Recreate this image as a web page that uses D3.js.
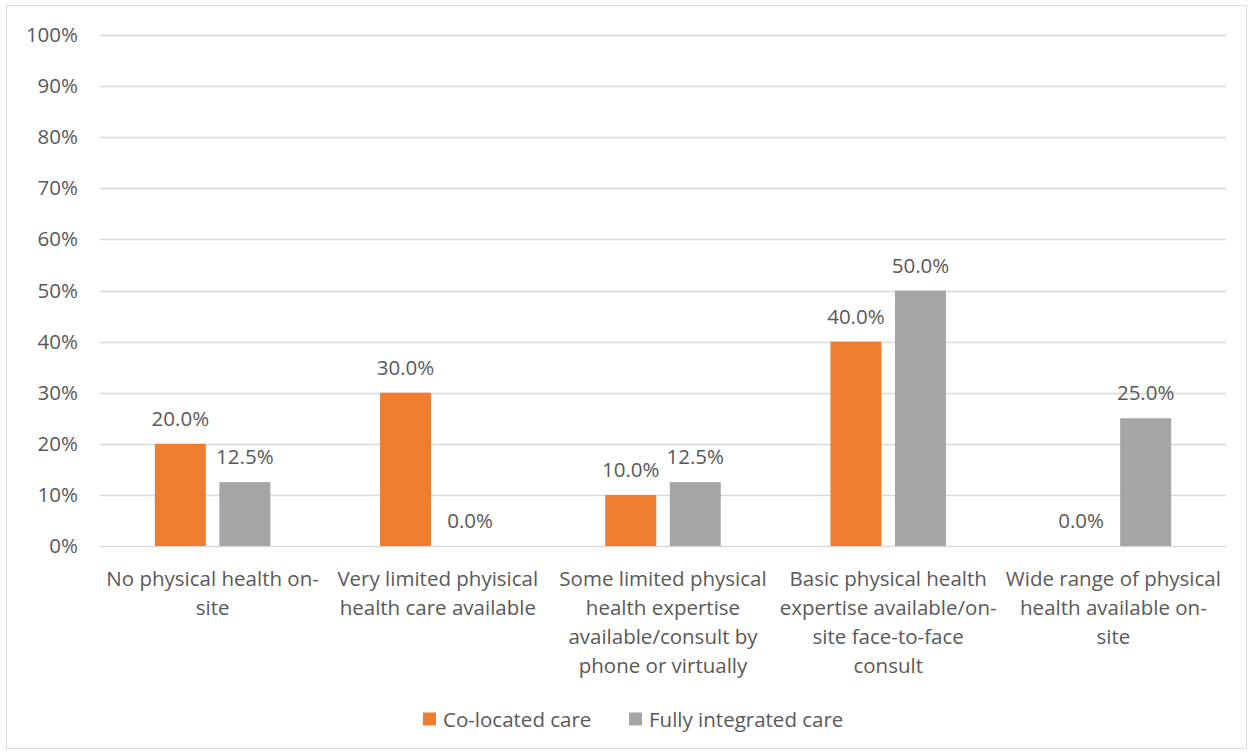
<!DOCTYPE html>
<html>
<head>
<meta charset="utf-8">
<script src="https://cdn.jsdelivr.net/npm/d3@7"></script>
<style>
  body { margin: 0; background: #fff; }
  text { font-family: "Open Sans", sans-serif; fill: #595959; }
</style>
</head>
<body>
<div id="chart-area"></div>
<script>
const categories = [
  "No physical health on-site",
  "Very limited phyisical health care available",
  "Some limited physical health expertise available/consult by phone or virtually",
  "Basic physical health expertise available/on-site face-to-face consult",
  "Wide range of physical health available on-site"
];
// wrapped lines as they appear under the axis
const categoryLines = [
  ["No physical health on-", "site"],
  ["Very limited phyisical", "health care available"],
  ["Some limited physical", "health expertise", "available/consult by", "phone or virtually"],
  ["Basic physical health", "expertise available/on-", "site face-to-face", "consult"],
  ["Wide range of physical", "health available on-", "site"]
];
const seriesNames = ["Co-located care", "Fully integrated care"];
const coLocated = [20.0, 30.0, 10.0, 40.0, 0.0];
const fullyIntegrated = [12.5, 0.0, 12.5, 50.0, 25.0];
const yTicks = [0, 10, 20, 30, 40, 50, 60, 70, 80, 90, 100];
const colors = ["#ED7D31", "#A5A5A5"];

const W = 1253, H = 755;
const margin = { top: 35, right: 27, bottom: 209, left: 100 };
const width = W - margin.left - margin.right;
const height = H - margin.top - margin.bottom;
const fontSize = "20.5px";

const svg = d3.select("#chart-area")
  .append("svg")
    .attr("width", W)
    .attr("height", H);

svg.append("rect")
  .attr("x", 6.5)
  .attr("y", 5.5)
  .attr("width", W - 13)
  .attr("height", H - 12)
  .attr("fill", "#fff")
  .attr("stroke", "#d9d9d9")
  .attr("stroke-width", 1);

const g = svg.append("g")
  .attr("transform", `translate(${margin.left}, ${margin.top})`);

const x = d3.scaleBand()
  .domain(categories)
  .range([0, width])
  .padding(0);

const x1 = d3.scaleBand()
  .domain(seriesNames)
  .range([0, x.bandwidth()])
  .paddingInner(0.21)
  .paddingOuter(0.85);

const y = d3.scaleLinear()
  .domain([0, 100])
  .range([height, 0]);

// gridlines
g.append("g")
  .selectAll("line")
  .data(yTicks)
  .join("line")
    .attr("x1", 0)
    .attr("x2", width)
    .attr("y1", d => Math.round(y(d)) + 0.5)
    .attr("y2", d => Math.round(y(d)) + 0.5)
    .attr("stroke", "#d9d9d9")
    .attr("stroke-width", 1.3);

// y axis labels
const yAxisCall = d3.axisLeft(y)
  .tickValues(yTicks)
  .tickFormat(d => d + "%")
  .tickSize(0)
  .tickPadding(22);

const yAxisGroup = g.append("g").call(yAxisCall);
yAxisGroup.select(".domain").remove();
yAxisGroup.selectAll("text")
  .attr("font-size", fontSize)
  .attr("font-family", "'Open Sans', sans-serif")
  .attr("fill", "#595959");

const rows = categories.map((c, i) => ({
  cat: c,
  vals: [coLocated[i], fullyIntegrated[i]]
}));

const groups = g.selectAll(".cat")
  .data(rows)
  .join("g")
    .attr("class", "cat")
    .attr("transform", d => `translate(${x(d.cat)}, 0)`);

groups.selectAll("rect")
  .data(d => d.vals.map((v, j) => ({ s: seriesNames[j], v, j })))
  .join("rect")
    .attr("x", d => x1(d.s))
    .attr("y", d => y(d.v))
    .attr("width", x1.bandwidth())
    .attr("height", d => height - y(d.v))
    .attr("fill", d => colors[d.j]);

groups.selectAll("text.val")
  .data(d => d.vals.map((v, j) => ({ s: seriesNames[j], v, j })))
  .join("text")
    .attr("class", "val")
    .attr("x", d => x1(d.s) + x1.bandwidth() / 2)
    .attr("y", d => y(d.v) - 18)
    .attr("text-anchor", "middle")
    .attr("font-size", fontSize)
    .attr("fill", "#404040")
    .text(d => d.v.toFixed(1) + "%");

// category labels
groups.append("text")
  .attr("text-anchor", "middle")
  .attr("font-size", fontSize)
  .attr("x", x.bandwidth() / 2)
  .selectAll("tspan")
  .data((d, i) => categoryLines[i])
  .join("tspan")
    .attr("x", x.bandwidth() / 2)
    .attr("y", (d, k) => height + 40 + k * 29)
    .text(d => d);

// legend
const legend = svg.append("g")
  .attr("transform", "translate(423, 719)");

const legendX = [0, 206];
seriesNames.forEach((name, i) => {
  const item = legend.append("g").attr("transform", `translate(${legendX[i]}, 0)`);
  item.append("rect")
    .attr("x", 0)
    .attr("y", -6.5)
    .attr("width", 13)
    .attr("height", 13)
    .attr("fill", colors[i]);
  item.append("text")
    .attr("x", 20)
    .attr("y", 7.5)
    .attr("font-size", fontSize)
    .text(name);
});
</script>
</body>
</html>
